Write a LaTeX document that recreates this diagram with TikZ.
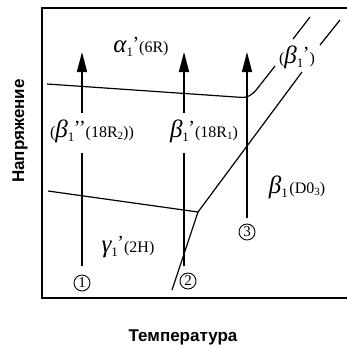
\documentclass[tikz,border=0pt]{standalone}
\usepackage{fontspec}
\setmainfont{Liberation Serif}
\newfontfamily\axisfont{Liberation Sans}
\usetikzlibrary{arrows.meta}
\newcommand\Gk[1]{{\fontsize{25}{26}\selectfont\itshape #1}}
\newcommand\Sb[1]{\raisebox{-4pt}{\fontsize{13}{13}\selectfont #1}}
\newcommand\Sbs[1]{\raisebox{-2.5pt}{\fontsize{11}{11}\selectfont #1}}
\newcommand\Prm[1]{\kern-0.5pt\raisebox{2.5pt}{\fontsize{20}{20}\selectfont #1}}
\newcommand\Tx[1]{{\fontsize{16}{16}\selectfont #1}}
\tikzset{
  frameline/.style={line width=1.6pt},
  phaseline/.style={line width=1.2pt},
  pathline/.style={line width=1.6pt},
  patharrow/.style={line width=1.6pt,-{Triangle[length=20pt,width=10pt]}},
  cnum/.style={circle,draw,line width=0.9pt,inner sep=0pt,minimum size=16pt,font=\fontsize{15}{15}\selectfont},
  axislab/.style={font=\axisfont\bfseries\fontsize{17}{17}\selectfont},
  plab/.style={inner sep=0pt}
}
\begin{document}
\begin{tikzpicture}[x=1pt,y=-1pt]
\useasboundingbox (0,0) rectangle (347,346);
% frame
\draw[frameline] (347,8) -- (42,8) -- (42,298) -- (347,298);
% coordinates
\coordinate (u0) at (47,84);
\coordinate (u1) at (240,97.3);
\coordinate (u2) at (257,89);
\coordinate (u3) at (275,66);
\coordinate (ud0) at (293,39);
\coordinate (ud1) at (310,17);
\coordinate (l0) at (48,191);
\coordinate (j) at (198,212);
\coordinate (jb) at (172,290);
\coordinate (l1) at (302,72);
\coordinate (ld0) at (320,45);
\coordinate (ld1) at (340,20);
% phase boundaries
\draw[phaseline] (u0) -- (u1) .. controls (248,98) and (252,95) .. (u2) -- (u3);
\draw[phaseline] (ud0) -- (ud1);
\draw[phaseline] (l0) -- (j) -- (l1);
\draw[phaseline] (ld0) -- (ld1);
\draw[phaseline] (j) -- (jb);
% arrow paths
\coordinate (a1b) at (82,266); \coordinate (a1m) at (82,153);
\coordinate (a1n) at (82,113); \coordinate (a1t) at (82,52);
\coordinate (a2b) at (184,266); \coordinate (a2m) at (184,153);
\coordinate (a2n) at (184,113); \coordinate (a2t) at (184,52);
\coordinate (a3b) at (247,218); \coordinate (a3t) at (247,52);
\draw[pathline] (a1b) -- (a1m);
\draw[patharrow] (a1n) -- (a1t);
\draw[pathline] (a2b) -- (a2m);
\draw[patharrow] (a2n) -- (a2t);
\draw[patharrow] (a3b) -- (a3t);
% numbers
\node[cnum] (n1) at (82,283) {1};
\node[cnum] (n2) at (188,281) {2};
\node[cnum] (n3) at (247,232) {3};
% labels
\node[plab] (alpha) at (141,47) {\Gk{α}\Sb{1}\Prm{’}\Tx{(6R)}};
\node[plab] (b2) at (92,131) {\Tx{(}\Gk{β}\Sb{1}\Prm{’’}\Tx{(18R\Sbs{2}))}};
\node[plab] (b1p) at (204,131) {\Gk{β}\Sb{1}\Prm{’}\Tx{(18R\Sbs{1})}};
\node[plab] (b1pp) at (297,57) {\Tx{(}\Gk{β}\Sb{1}\Prm{’}\Tx{)}};
\node[plab] (b1) at (297,187) {\Gk{β}\Sb{1}\,\Tx{(D0\Sbs{3})}};
\node[plab] (g1) at (128,247) {\Gk{γ}\Sb{1}\Prm{’}\Tx{(2H)}};
% axis labels
\node[axislab,rotate=90] (ylab) at (20,131) {Напряжение};
\node[axislab] (xlab) at (183,337) {Температура};
\end{tikzpicture}
\end{document}
